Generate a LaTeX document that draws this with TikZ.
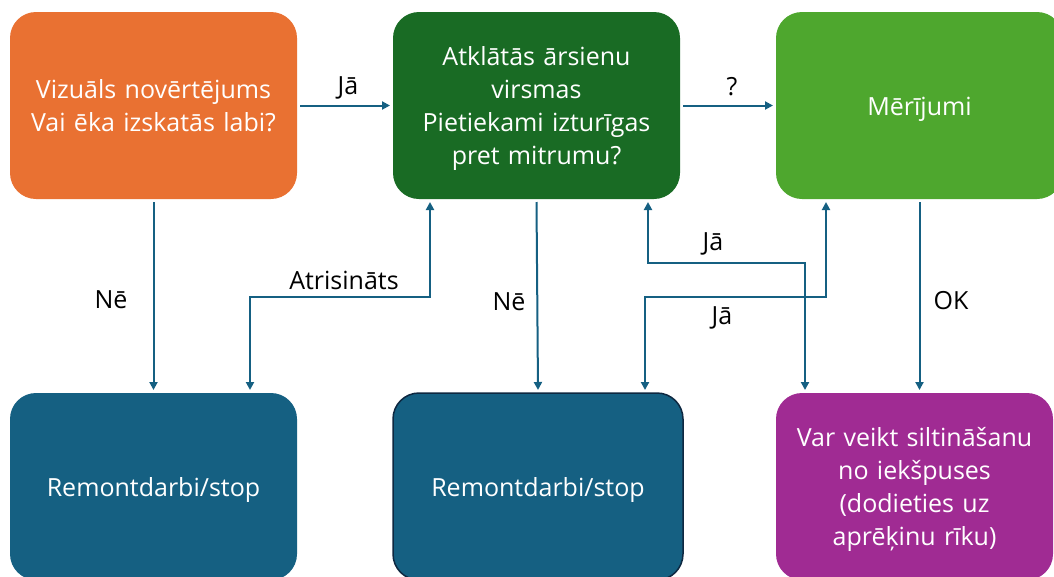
\documentclass[tikz,border=0pt]{standalone}
\usepackage{fontspec}
\setmainfont{Open Sans}
\usetikzlibrary{arrows.meta}
\definecolor{oranzs}{HTML}{E97132}
\definecolor{tumszals}{HTML}{196B24}
\definecolor{gaisszals}{HTML}{4EA72E}
\definecolor{zils}{HTML}{156082}
\definecolor{tumszils}{HTML}{0E2841}
\definecolor{violets}{HTML}{A02B93}
\begin{document}
\begin{tikzpicture}[x=1pt,y=-1pt,>={Triangle[length=8pt,width=8pt]},
	box/.style={rounded corners=26pt, minimum width=287pt, minimum height=187pt, inner sep=0pt, outer sep=3pt, text width=270pt, align=center, text=white, font=\fontsize{25}{33}\selectfont,
		execute at begin node={\rule{0pt}{27pt}}, execute at end node={\rule[-8pt]{0pt}{0pt}}},
	arr/.style={draw=zils, line width=2pt, ->},
	dual/.style={draw=zils, line width=2pt, <->},
	lbl/.style={font=\fontsize{25}{30}\selectfont}]%[scale=.85,transform shape]
	\def\ytop{105.5} \def\ybot{486.5}
	\useasboundingbox (0,0) rectangle (1054,576);
	\clip (0,0) rectangle (1054,576);
	\node[box, fill=oranzs] (viz) at (153.5,\ytop) {Vizuāls novērtējums\\Vai ēka izskatās labi?};
	\node[box, fill=tumszals] (atk) at (536.5,\ytop) {Atklātās ārsienu\\virsmas\\Pietiekami izturīgas\\pret mitrumu?};
	\node[box, fill=gaisszals] (mer) at (919.5,\ytop) {Mērījumi};
	\node[box, fill=zils] (rem1) at (153.5,\ybot) {Remontdarbi/stop};
	\node[box, fill=zils, draw=tumszils, line width=1.5pt, minimum width=290pt] (rem2) at (538,\ybot) {Remontdarbi/stop};
	\node[box, fill=violets, minimum width=277pt] (silt) at (914.5,\ybot) {Var veikt siltināšanu\\no iekšpuses\\(dodieties uz\\aprēķinu rīku)};
	\draw[arr] (viz) -- (atk);
	\draw[arr] (atk) -- (mer);
	\draw[arr] (viz.south) -- (rem1.north);
	\draw[arr] (atk.south) -- (rem2.north);
	\draw[arr] (mer.south) -- ([xshift=5]silt.north);
	\draw[dual] ([xshift=96.5]rem1.north) -- ++(0,-93) -| ([xshift=-106.5]atk.south);
	\draw[dual] ([xshift=111.5]atk.south) -- ++(0,61) -| ([xshift=-109.5]silt.north);
	\draw[dual] ([xshift=-93.5]mer.south) -- ++(0,95) -| ([xshift=107]rem2.north);
	\node[lbl] (ja1) at (348,88) {Jā};
	\node[lbl] (jaut) at (732,87) {?};
	\node[lbl] (ne1) at (111,300) {Nē};
	\node[lbl] (atr) at (344,280) {Atrisināts};
	\node[lbl] (ne2) at (509,302) {Nē};
	\node[lbl] (ja2) at (713,244) {Jā};
	\node[lbl] (ja3) at (722,318) {Jā};
	\node[lbl] (ok) at (951,301) {OK};
\end{tikzpicture}
\end{document}
